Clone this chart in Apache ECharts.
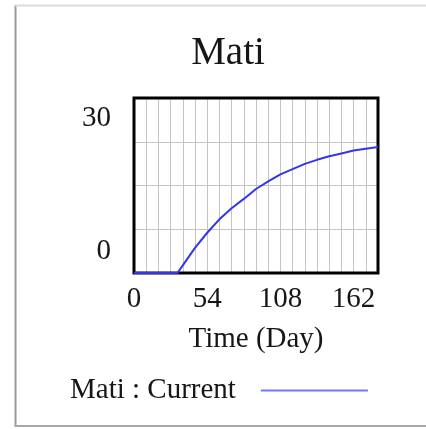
<!DOCTYPE html>
<html>
<head>
<meta charset="utf-8">
<script src="https://cdn.jsdelivr.net/npm/echarts@6/dist/echarts.min.js"></script>
<style>html,body{margin:0;padding:0;background:#fff;}#c{width:426px;height:429px;}</style>
</head>
<body>
<div id="c"></div>
<script>
const titleText = 'Mati';
const seriesName = 'Mati : Current';
const xName = 'Time (Day)';
const days = [0, 9, 18, 27, 32, 36, 45, 54, 63, 72, 81, 90, 99, 108, 117, 126, 135, 144, 153, 162, 171, 180];
const values = [0, 0, 0, 0, 0, 1.3, 4.3, 6.9, 9.2, 11.1, 12.7, 14.4, 15.7, 16.9, 17.8, 18.7, 19.4, 20.0, 20.5, 21.0, 21.3, 21.6];
const xTickLabels = [0, 54, 108, 162];
const yTickLabels = [0, 30];

const font = 'Liberation Serif';
const textColor = '#161616';
const chart = echarts.init(document.getElementById('c'), null, {renderer: 'canvas'});
chart.setOption({
  backgroundColor: '#fff',
  animation: false,
  graphic: [
    {type: 'line', shape: {x1: 15.5, y1: 5, x2: 15.5, y2: 427}, style: {stroke: '#9a9a9a', lineWidth: 2}},
    {type: 'line', shape: {x1: 15, y1: 5.5, x2: 426, y2: 5.5}, style: {stroke: '#dcdcdc', lineWidth: 2}},
    {type: 'line', shape: {x1: 15, y1: 426, x2: 426, y2: 426}, style: {stroke: '#a8a8a8', lineWidth: 2}},
    {type: 'text', x: 228, y: 54, style: {text: titleText, font: '39px "Liberation Serif"', fill: textColor, textAlign: 'center', textVerticalAlign: 'middle'}},
    {type: 'rect', z: 4, shape: {x: 134, y: 98, width: 244, height: 175}, style: {fill: 'none', stroke: '#000', lineWidth: 3}}
  ],
  grid: {left: 134, top: 98, width: 244, height: 175, show: false},
  xAxis: {
    type: 'value', min: 0, max: 180, interval: 9,
    name: xName, nameLocation: 'middle', nameGap: 52,
    nameTextStyle: {fontFamily: font, fontSize: 29, color: textColor},
    axisLine: {show: false}, axisTick: {show: false},
    splitLine: {show: true, lineStyle: {color: '#c4c4c4', width: 1}},
    axisLabel: {
      fontFamily: font, fontSize: 29, color: textColor, margin: 12,
      formatter: v => xTickLabels.indexOf(v) >= 0 ? String(v) : ''
    }
  },
  yAxis: {
    type: 'value', min: 0, max: 30, interval: 7.5,
    axisLine: {show: false}, axisTick: {show: false},
    splitLine: {show: true, lineStyle: {color: '#c4c4c4', width: 1}},
    axisLabel: {
      margin: 23,
      formatter: v => v === yTickLabels[1] ? '{t|' + v + '}' : (v === yTickLabels[0] ? '{b|' + v + '}' : ''),
      rich: {
        t: {fontFamily: font, fontSize: 29, color: textColor, padding: [40, 0, 0, 0]},
        b: {fontFamily: font, fontSize: 29, color: textColor, padding: [0, 0, 44, 0]}
      }
    }
  },
  legend: {
    show: true, left: 65, top: 371, align: 'right',
    itemWidth: 107, itemHeight: 14, itemGap: 0,
    textStyle: {fontFamily: font, fontSize: 29, color: textColor, padding: [0, 20, 0, 0]},
    data: [{name: seriesName, icon: 'path://M0,0L100,0L100,2L0,2Z', itemStyle: {color: '#7575ff'}}]
  },
  series: [{
    name: seriesName, type: 'line', symbol: 'none', smooth: false,
    data: days.map((d, i) => [d, values[i]]),
    lineStyle: {color: '#3636e6', width: 2},
    itemStyle: {color: '#3636e6'},
    z: 5
  }]
});
</script>
</body>
</html>
